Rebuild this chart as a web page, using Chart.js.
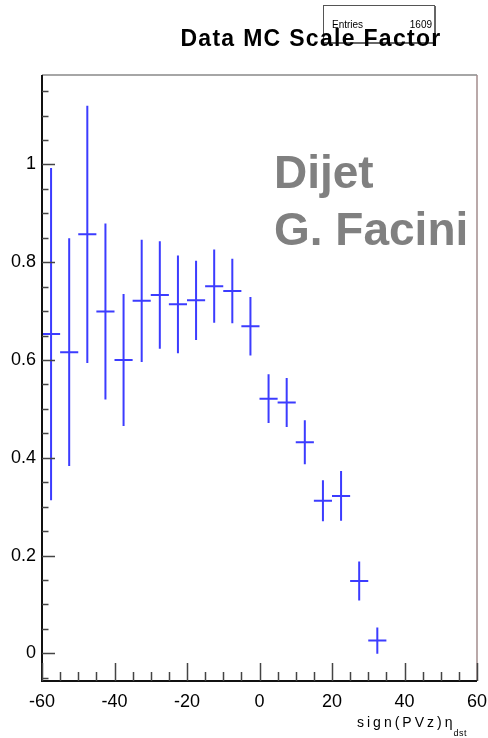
<!DOCTYPE html>
<html><head><meta charset="utf-8">
<script src="https://cdn.jsdelivr.net/npm/chart.js@4/dist/chart.umd.min.js"></script>
<style>html,body{margin:0;padding:0;background:#fff;}#wrap{width:488px;height:738px;position:relative;}</style>
</head><body><div id="wrap"><canvas id="c" width="488" height="738"></canvas></div>
<script>
// ---- data ----
const binCenters = [-57.5,-52.5,-47.5,-42.5,-37.5,-32.5,-27.5,-22.5,-17.5,-12.5,-7.5,-2.5,2.5,7.5,12.5,17.5,22.5,27.5,32.5];
const values     = [0.653,0.616,0.857,0.699,0.600,0.721,0.733,0.714,0.722,0.751,0.741,0.669,0.521,0.513,0.432,0.312,0.322,0.148,0.026];
const errors     = [0.340,0.233,0.263,0.180,0.135,0.125,0.110,0.100,0.081,0.075,0.066,0.060,0.050,0.050,0.045,0.042,0.051,0.040,0.027];
const binHalfWidth = 2.5;
const xTickValues = [-60,-40,-20,0,20,40,60];
const yTickValues = [0,0.2,0.4,0.6,0.8,1];
const titleText = 'Data MC Scale Factor';
const entriesLabel = 'Entries';
const entriesValue = '1609';
const annotationLines = ['Dijet','G. Facini'];
const xTitleMain = 'sign(PVz)\u03B7';
const xTitleSub = 'dst';

const FONT = '"Liberation Sans", Arial, Helvetica, sans-serif';
const X_MIN = -60, X_MAX = 60, Y_MIN = -0.0566, Y_MAX = 1.183;

const rootPlugin = {
  id: 'rootStyle',
  beforeDraw(chart) {
    const ctx = chart.ctx;
    ctx.save();
    ctx.fillStyle = '#fff';
    ctx.fillRect(0, 0, chart.width, chart.height);
    ctx.restore();
  },
  afterDatasetsDraw(chart) {
    const ctx = chart.ctx;
    const xs = chart.scales.x, ys = chart.scales.y;
    const a = chart.chartArea;
    ctx.save();
    // error bars
    ctx.strokeStyle = 'rgb(60,60,255)';
    ctx.lineWidth = 2;
    binCenters.forEach((xc, i) => {
      const px = xs.getPixelForValue(xc);
      const py = ys.getPixelForValue(values[i]);
      const x0 = xs.getPixelForValue(xc - binHalfWidth);
      const x1 = xs.getPixelForValue(xc + binHalfWidth);
      const yt = ys.getPixelForValue(values[i] + errors[i]);
      const yb = ys.getPixelForValue(values[i] - errors[i]);
      ctx.beginPath();
      ctx.moveTo(x0, py); ctx.lineTo(x1, py);
      ctx.moveTo(px, yt); ctx.lineTo(px, yb);
      ctx.stroke();
    });
    // frame
    ctx.lineWidth = 1.5;
    ctx.strokeStyle = '#888';
    ctx.beginPath();
    ctx.moveTo(a.left, a.top); ctx.lineTo(a.right, a.top);
    ctx.stroke();
    ctx.strokeStyle = '#a38c8c';
    ctx.beginPath();
    ctx.moveTo(a.right, a.top); ctx.lineTo(a.right, a.bottom);
    ctx.stroke();
    ctx.strokeStyle = '#111';
    ctx.lineWidth = 2;
    ctx.beginPath();
    ctx.moveTo(a.left, a.top); ctx.lineTo(a.left, a.bottom); ctx.lineTo(a.right, a.bottom);
    ctx.stroke();
    // ticks
    ctx.strokeStyle = '#444';
    ctx.lineWidth = 1.5;
    ctx.beginPath();
    for (let k = -1; k <= 23; k++) {
      const v = k * 0.05;
      if (v < Y_MIN || v > Y_MAX) continue;
      const py = Math.round(ys.getPixelForValue(v)) + 0.5;
      const len = (k % 4 === 0) ? 13 : 6.5;
      ctx.moveTo(a.left, py); ctx.lineTo(a.left + len, py);
    }
    for (let k = -12; k <= 12; k++) {
      const v = k * 5;
      const px = Math.round(xs.getPixelForValue(v)) + 0.5;
      const len = (k % 4 === 0) ? 18 : 9;
      ctx.moveTo(px, a.bottom); ctx.lineTo(px, a.bottom - len);
    }
    ctx.stroke();
    ctx.restore();
  },
  afterDraw(chart) {
    const ctx = chart.ctx;
    ctx.save();
    // stats box
    ctx.fillStyle = '#fff';
    ctx.fillRect(323, 5, 112, 38);
    ctx.strokeStyle = '#555';
    ctx.lineWidth = 1;
    ctx.strokeRect(323.5, 5.5, 111, 37);
    ctx.fillStyle = '#666';
    ctx.fillRect(434, 6, 2, 38);
    ctx.fillRect(324, 42, 112, 2);
    ctx.fillStyle = '#000';
    ctx.font = '10px ' + FONT;
    ctx.textBaseline = 'alphabetic';
    ctx.textAlign = 'left';
    ctx.fillText(entriesLabel, 332, 28);
    ctx.textAlign = 'right';
    ctx.fillText(entriesValue, 432, 28);
    // title
    ctx.font = 'bold 23px ' + FONT;
    ctx.letterSpacing = '1.3px';
    ctx.textAlign = 'center';
    ctx.fillText(titleText, 311, 46);
    // annotation
    ctx.letterSpacing = '0px';
    ctx.font = 'bold 46px ' + FONT;
    ctx.fillStyle = '#808080';
    ctx.textAlign = 'left';
    ctx.fillText(annotationLines[0], 274, 188);
    ctx.fillText(annotationLines[1], 274, 245);
    // x axis title
    ctx.fillStyle = '#000';
    ctx.font = '14px ' + FONT;
    ctx.letterSpacing = '3px';
    ctx.textAlign = 'left';
    ctx.fillText(xTitleMain, 357, 727);
    const w = ctx.measureText(xTitleMain).width;
    ctx.font = '9px ' + FONT;
    ctx.letterSpacing = '0.5px';
    ctx.fillText(xTitleSub, 357 + w - 2, 736);
    ctx.restore();
  }
};

new Chart(document.getElementById('c'), {
  type: 'scatter',
  data: {
    datasets: [{
      data: binCenters.map((x, i) => ({ x: x, y: values[i] })),
      pointRadius: 0,
      showLine: false
    }]
  },
  options: {
    responsive: false,
    animation: false,
    devicePixelRatio: 1,
    layout: { padding: { top: 75, right: 11, left: 0, bottom: 0 } },
    plugins: { legend: { display: false }, tooltip: { enabled: false }, title: { display: false } },
    scales: {
      x: {
        type: 'linear', min: X_MIN, max: X_MAX,
        afterBuildTicks: s => { s.ticks = xTickValues.map(v => ({ value: v })); },
        ticks: { color: '#000', font: { family: FONT, size: 18 }, padding: 10, maxRotation: 0, autoSkip: false },
        grid: { display: false, drawTicks: false },
        border: { display: false },
        afterFit: s => { s.height = 57; s.paddingLeft = 0; s.paddingRight = 0; }
      },
      y: {
        type: 'linear', min: Y_MIN, max: Y_MAX,
        afterBuildTicks: s => { s.ticks = yTickValues.map(v => ({ value: v })); },
        ticks: { color: '#000', font: { family: FONT, size: 18 }, padding: 6, autoSkip: false,
                 callback: v => String(+v.toFixed(1)) },
        grid: { display: false, drawTicks: false },
        border: { display: false },
        afterFit: s => { s.width = 42; s.paddingTop = 0; s.paddingBottom = 0; }
      }
    }
  },
  plugins: [rootPlugin]
});
</script>
</body></html>
